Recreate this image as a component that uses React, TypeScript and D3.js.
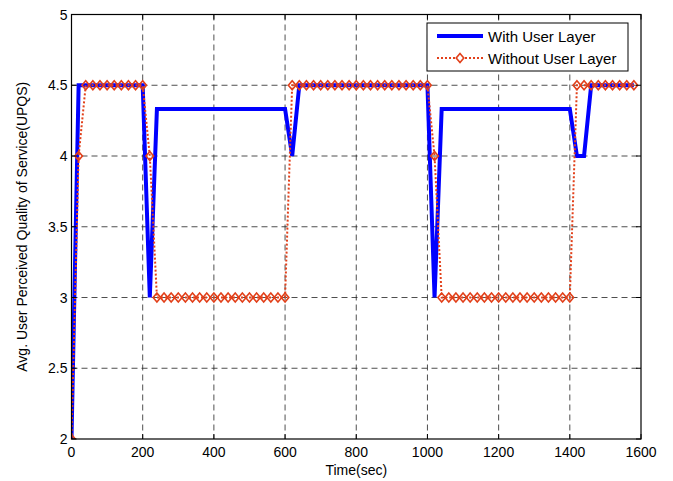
import React, { useEffect, useRef } from "react";
import * as d3 from "d3";

const times = d3.range(0, 1600, 20);
const withUser: number[] = [
  2, 4.5, 4.5, 4.5, 4.5, 4.5, 4.5, 4.5, 4.5, 4.5, 4.5,
  3, 4.333, 4.333, 4.333, 4.333, 4.333, 4.333, 4.333, 4.333, 4.333, 4.333,
  4.333, 4.333, 4.333, 4.333, 4.333, 4.333, 4.333, 4.333, 4.333,
  4, 4.5, 4.5, 4.5, 4.5, 4.5, 4.5, 4.5, 4.5, 4.5, 4.5, 4.5, 4.5, 4.5, 4.5, 4.5, 4.5, 4.5, 4.5, 4.5,
  3, 4.333, 4.333, 4.333, 4.333, 4.333, 4.333, 4.333, 4.333, 4.333, 4.333,
  4.333, 4.333, 4.333, 4.333, 4.333, 4.333, 4.333, 4.333, 4.333,
  4, 4, 4.5, 4.5, 4.5, 4.5, 4.5, 4.5, 4.5,
];
const withoutUser: number[] = [
  2, 4, 4.5, 4.5, 4.5, 4.5, 4.5, 4.5, 4.5, 4.5, 4.5,
  4, 3, 3, 3, 3, 3, 3, 3, 3, 3, 3, 3, 3, 3, 3, 3, 3, 3, 3, 3,
  4.5, 4.5, 4.5, 4.5, 4.5, 4.5, 4.5, 4.5, 4.5, 4.5, 4.5, 4.5, 4.5, 4.5, 4.5, 4.5, 4.5, 4.5, 4.5, 4.5,
  4, 3, 3, 3, 3, 3, 3, 3, 3, 3, 3, 3, 3, 3, 3, 3, 3, 3, 3, 3,
  4.5, 4.5, 4.5, 4.5, 4.5, 4.5, 4.5, 4.5, 4.5,
];
const xTicks = [0, 200, 400, 600, 800, 1000, 1200, 1400, 1600];
const yTicks = [2, 2.5, 3, 3.5, 4, 4.5, 5];
const seriesNames = ["With User Layer", "Without User Layer"];

const W = 673, H = 481;
const L = 71.5, R = 641, T = 14.5, B = 439;
const FONT = "'Liberation Sans', Arial, sans-serif";

export default function App() {
  const ref = useRef<SVGSVGElement>(null);
  useEffect(() => {
    const svg = d3.select(ref.current!);
    svg.selectAll("*").remove();
    const x = d3.scaleLinear().domain([0, 1600]).range([L, R]);
    const y = d3.scaleLinear().domain([2, 5]).range([B, T]);

    svg.append("rect").attr("width", W).attr("height", H).attr("fill", "#fff");
    svg.append("clipPath").attr("id", "plotclip").append("rect")
      .attr("x", L).attr("y", T).attr("width", R - L).attr("height", B - T);

    const grid = svg.append("g");
    xTicks.slice(1, -1).forEach((t) =>
      grid.append("line").attr("x1", x(t)).attr("x2", x(t)).attr("y1", T).attr("y2", B)
        .attr("stroke", "#222").attr("stroke-width", 0.8).attr("stroke-dasharray", "6,4"));
    yTicks.slice(1, -1).forEach((t) =>
      grid.append("line").attr("x1", L).attr("x2", R).attr("y1", y(t)).attr("y2", y(t))
        .attr("stroke", "#222").attr("stroke-width", 0.8).attr("stroke-dasharray", "6,4"));

    const data1 = times.map((t, i) => [t, withUser[i]] as [number, number]);
    const data2 = times.map((t, i) => [t, withoutUser[i]] as [number, number]);
    const line = d3.line<[number, number]>().x((d) => x(d[0])).y((d) => y(d[1]));

    const plot = svg.append("g").attr("clip-path", "url(#plotclip)");
    plot.append("path").attr("d", line(data1)!).attr("fill", "none")
      .attr("stroke", "#0000ff").attr("stroke-width", 4).attr("stroke-linejoin", "miter");
    plot.append("path").attr("d", line(data2)!).attr("fill", "none")
      .attr("stroke", "#e2401a").attr("stroke-width", 2).attr("stroke-dasharray", "2,2");
    const diamond = (cx: number, cy: number) =>
      `M${cx},${cy - 4.5}L${cx + 3.8},${cy}L${cx},${cy + 4.5}L${cx - 3.8},${cy}Z`;
    plot.append("g").selectAll("path").data(data2).join("path")
      .attr("d", (d) => diamond(x(d[0]), y(d[1])))
      .attr("fill", "none").attr("stroke", "#e2401a").attr("stroke-width", 1.6);

    // frame
    svg.append("rect").attr("x", L).attr("y", T).attr("width", R - L).attr("height", B - T)
      .attr("fill", "none").attr("stroke", "#000").attr("stroke-width", 1.2);
    const tk = svg.append("g").attr("stroke", "#000").attr("stroke-width", 1);
    xTicks.forEach((t) => {
      tk.append("line").attr("x1", x(t)).attr("x2", x(t)).attr("y1", B).attr("y2", B - 5);
      tk.append("line").attr("x1", x(t)).attr("x2", x(t)).attr("y1", T).attr("y2", T + 5);
    });
    yTicks.forEach((t) => {
      tk.append("line").attr("x1", L).attr("x2", L + 5).attr("y1", y(t)).attr("y2", y(t));
      tk.append("line").attr("x1", R).attr("x2", R - 5).attr("y1", y(t)).attr("y2", y(t));
    });

    const txt = svg.append("g").attr("font-family", FONT).attr("font-size", 14).attr("fill", "#000");
    xTicks.forEach((t) =>
      txt.append("text").attr("x", x(t)).attr("y", B + 18).attr("text-anchor", "middle").text(String(t)));
    yTicks.forEach((t) =>
      txt.append("text").attr("x", L - 4).attr("y", y(t) + 5).attr("text-anchor", "end").text(String(t)));
    txt.append("text").attr("x", (L + R) / 2).attr("y", 475).attr("text-anchor", "middle").text("Time(sec)");
    txt.append("text").attr("transform", `translate(27,${(T + B) / 2}) rotate(-90)`)
      .attr("text-anchor", "middle").text("Avg. User Perceived Quality of Service(UPQS)");

    // legend
    const lg = svg.append("g");
    lg.append("rect").attr("x", 427).attr("y", 23).attr("width", 201).attr("height", 48)
      .attr("fill", "#fff").attr("stroke", "#000").attr("stroke-width", 1);
    lg.append("line").attr("x1", 437).attr("x2", 483).attr("y1", 36).attr("y2", 36)
      .attr("stroke", "#0000ff").attr("stroke-width", 4);
    lg.append("line").attr("x1", 437).attr("x2", 483).attr("y1", 58).attr("y2", 58)
      .attr("stroke", "#e2401a").attr("stroke-width", 2).attr("stroke-dasharray", "2,2");
    lg.append("path").attr("d", diamond(460, 58)).attr("fill", "#fff")
      .attr("stroke", "#e2401a").attr("stroke-width", 1.6);
    seriesNames.forEach((n, i) =>
      lg.append("text").attr("x", 488).attr("y", 41.5 + i * 22).attr("font-family", FONT)
        .attr("font-size", 15).text(n));
  }, []);
  return (
    <svg ref={ref} width={W} height={H}
      style={{ position: "absolute", left: 0, top: 0, display: "block" }} />
  );
}
